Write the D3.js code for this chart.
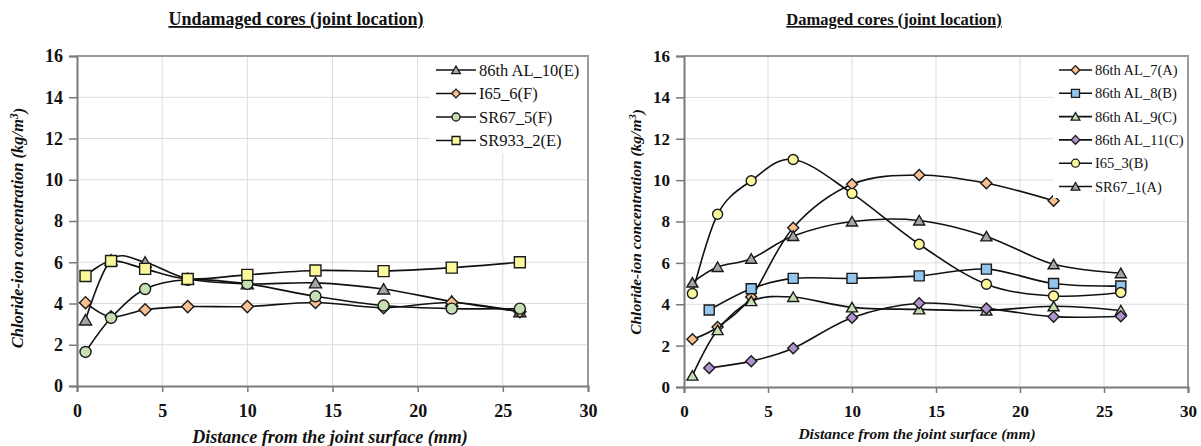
<!DOCTYPE html>
<html lang="en">
<head>
<meta charset="UTF-8">
<title>Chloride-ion concentration at joints</title>
<script src="https://d3js.org/d3.v7.min.js"></script>
<style>
  body { margin: 0; padding: 0; background: #fff; }
  text { font-family: "Liberation Serif", "Times New Roman", serif; fill: #111; }
</style>
</head>
<body>
<div id="main"></div>
<script>
// ---- data ----
var xTicks = [0, 5, 10, 15, 20, 25, 30];
var yTicks = [0, 2, 4, 6, 8, 10, 12, 14, 16];

// undamaged cores
var depthU = [0.5, 2, 4, 6.5, 10, 14, 18, 22, 26];
var al10E = [3.2, 6.1, 6.0, 5.2, 4.95, 5.0, 4.7, 4.1, 3.6];
var i65_6F = [4.04, 3.35, 3.7, 3.85, 3.85, 4.05, 3.8, 4.05, 3.6];
var sr67_5F = [1.65, 3.3, 4.7, 5.15, 4.95, 4.35, 3.9, 3.75, 3.75];
var sr933_2E = [5.33, 6.06, 5.68, 5.19, 5.39, 5.6, 5.57, 5.74, 6.0];

// damaged cores
var depthD = [0.5, 2, 4, 6.5, 10, 14, 18, 22, 26];
var depthD7 = [0.5, 2, 4, 6.5, 10, 14, 18, 22];
var depthD8 = [1.5, 4, 6.5, 10, 14, 18, 22, 26];
var al7A = [2.31, 2.9, 4.35, 7.7, 9.8, 10.25, 9.85, 9.0];
var al8B = [3.72, 4.75, 5.25, 5.25, 5.37, 5.7, 5.0, 4.88];
var al9C = [0.55, 2.75, 4.15, 4.35, 3.85, 3.75, 3.7, 3.9, 3.7];
var al11C = [0.92, 1.25, 1.87, 3.35, 4.05, 3.8, 3.4, 3.42];
var i65_3B = [4.52, 8.35, 9.97, 11.0, 9.36, 6.9, 4.97, 4.4, 4.57];
var sr67_1A = [5.05, 5.8, 6.2, 7.3, 8.0, 8.05, 7.28, 5.93, 5.5];

var colors = {
    orange: '#fac090',
    blue: '#93c6ee',
    green: '#c6e0b4',
    gray: '#a5a5a5',
    purple: '#b092cf',
    yellow: '#fbf89c'
}

var serif = '"Liberation Serif", "Times New Roman", serif';

function pairs(xs, ys) {
    return xs.map(function(x, i) { return { x: x, y: ys[i] }; });
}

var undamaged = [
    { name: '86th AL_10(E)', pts: pairs(depthU, al10E), shape: 'triangle', fill: colors.gray },
    { name: 'I65_6(F)', pts: pairs(depthU, i65_6F), shape: 'diamond', fill: colors.orange },
    { name: 'SR67_5(F)', pts: pairs(depthU, sr67_5F), shape: 'circle', fill: colors.green },
    { name: 'SR933_2(E)', pts: pairs(depthU, sr933_2E), shape: 'square', fill: colors.yellow }
];

var damaged = [
    { name: '86th AL_7(A)', pts: pairs(depthD7, al7A), shape: 'diamond', fill: colors.orange },
    { name: '86th AL_8(B)', pts: pairs(depthD8, al8B), shape: 'square', fill: colors.blue },
    { name: '86th AL_9(C)', pts: pairs(depthD, al9C), shape: 'triangle', fill: colors.green },
    { name: '86th AL_11(C)', pts: pairs(depthD8, al11C), shape: 'diamond', fill: colors.purple },
    { name: 'I65_3(B)', pts: pairs(depthD, i65_3B), shape: 'circle', fill: colors.yellow },
    { name: 'SR67_1(A)', pts: pairs(depthD, sr67_1A), shape: 'triangle', fill: colors.gray }
];

var svg = d3.select('#main').append('svg')
    .attr('width', 1201)
    .attr('height', 446);

// marker path, s = half size
function markerPath(shape, s) {
    if (shape == 'square') {
        return 'M' + (-s) + ',' + (-s) + 'H' + s + 'V' + s + 'H' + (-s) + 'Z';
    } else if (shape == 'diamond') {
        var d = s * 1.1;
        return 'M0,' + (-d) + 'L' + d + ',0L0,' + d + 'L' + (-d) + ',0Z';
    } else if (shape == 'triangle') {
        var w = s * 1.1;
        return 'M0,' + (-s) + 'L' + w + ',' + (s * 0.9) + 'L' + (-w) + ',' + (s * 0.9) + 'Z';
    } else {
        return d3.arc()({ innerRadius: 0, outerRadius: s, startAngle: 0, endAngle: 2 * Math.PI });
    }
}

function drawChart(cfg) {
    var x = d3.scaleLinear().domain([0, 30]).range([cfg.left, cfg.right]);
    var y = d3.scaleLinear().domain([0, 16]).range([cfg.bottom, cfg.top]);
    var g = svg.append('g');

    // gridlines
    g.append('g')
        .selectAll('line.h')
        .data(yTicks.slice(1))
        .enter().append('line')
        .attr('x1', cfg.left).attr('x2', cfg.right)
        .attr('y1', function(d) { return y(d); })
        .attr('y2', function(d) { return y(d); })
        .attr('stroke', '#dcdcdc').attr('stroke-width', 1);
    g.append('g')
        .selectAll('line.v')
        .data(xTicks.slice(1))
        .enter().append('line')
        .attr('y1', cfg.top).attr('y2', cfg.bottom)
        .attr('x1', function(d) { return x(d); })
        .attr('x2', function(d) { return x(d); })
        .attr('stroke', '#dcdcdc').attr('stroke-width', 1);

    // plot frame (top and right)
    g.append('path')
        .attr('d', 'M' + cfg.left + ',' + cfg.top + 'H' + cfg.right + 'V' + cfg.bottom)
        .attr('fill', 'none').attr('stroke', '#9a9a9a').attr('stroke-width', 2);

    // axes
    var yAxis = g.append('g')
        .attr('transform', 'translate(' + cfg.left + ',0)')
        .call(d3.axisLeft(y).tickValues(yTicks).tickSize(8).tickPadding(6));
    var xAxis = g.append('g')
        .attr('transform', 'translate(0,' + cfg.bottom + ')')
        .call(d3.axisBottom(x).tickValues(xTicks).tickSize(6).tickPadding(12));

    [yAxis, xAxis].forEach(function(a) {
        a.attr('font-family', serif).attr('font-size', cfg.tickFont);
        a.select('.domain').attr('stroke', '#7a7a7a').attr('stroke-width', 2);
        a.selectAll('.tick line').attr('stroke', '#7a7a7a').attr('stroke-width', 1.5);
        a.selectAll('.tick text')
            .style('font-family', serif)
            .style('font-weight', 'bold')
            .style('font-size', cfg.tickFont + 'px')
            .attr('fill', '#111');
    });

    // series
    var line = d3.line()
        .x(function(d) { return x(d.x); })
        .y(function(d) { return y(d.y); })
        .curve(d3.curveCardinal.tension(0));

    cfg.series.forEach(function(s) {
        var sg = g.append('g');
        sg.append('path')
            .attr('d', line(s.pts))
            .attr('fill', 'none')
            .attr('stroke', '#111')
            .attr('stroke-width', 1.6);
        sg.selectAll('path.m')
            .data(s.pts)
            .enter().append('path')
            .attr('class', 'm')
            .attr('d', markerPath(s.shape, cfg.marker))
            .attr('transform', function(d) { return 'translate(' + x(d.x) + ',' + y(d.y) + ')'; })
            .attr('fill', s.fill)
            .attr('stroke', '#1a1a1a')
            .attr('stroke-width', 1.4);
    });

    // legend
    var lg = g.append('g');
    lg.append('rect')
        .attr('x', cfg.legend.x).attr('y', cfg.top + 1)
        .attr('width', cfg.right - cfg.legend.x - 1)
        .attr('height', cfg.legend.h)
        .attr('fill', '#fff');
    cfg.series.forEach(function(s, i) {
        var ly = cfg.legend.y + i * cfg.legend.step;
        lg.append('line')
            .attr('x1', cfg.legend.x + 6).attr('x2', cfg.legend.x + cfg.legend.len + 6)
            .attr('y1', ly).attr('y2', ly)
            .attr('stroke', '#111').attr('stroke-width', 1.6);
        lg.append('path')
            .attr('d', markerPath(s.shape, 4))
            .attr('transform', 'translate(' + (cfg.legend.x + 6 + cfg.legend.len / 2) + ',' + ly + ')')
            .attr('fill', s.fill)
            .attr('stroke', '#1a1a1a')
            .attr('stroke-width', 1.3);
        lg.append('text')
            .attr('x', cfg.legend.x + cfg.legend.len + 9)
            .attr('y', ly)
            .attr('dy', '0.35em')
            .style('font-size', cfg.legend.font + 'px')
            .text(s.name);
    });

    // title
    g.append('text')
        .attr('x', cfg.titleX).attr('y', 25)
        .attr('text-anchor', 'middle')
        .style('font-weight', 'bold')
        .style('font-size', cfg.titleFont + 'px')
        .style('text-decoration', 'underline')
        .text(cfg.title);

    // x axis title
    g.append('text')
        .attr('x', cfg.xTitleX).attr('y', cfg.xTitleY)
        .attr('text-anchor', 'middle')
        .style('font-weight', 'bold')
        .style('font-style', 'italic')
        .style('font-size', cfg.xTitleFont + 'px')
        .text('Distance from the joint surface (mm)');

    // y axis title
    var yt = g.append('text')
        .attr('transform', 'translate(' + cfg.yTitleX + ',' + cfg.yTitleY + ') rotate(-90)')
        .attr('text-anchor', 'middle')
        .style('font-weight', 'bold')
        .style('font-style', 'italic')
        .style('font-size', cfg.yTitleFont + 'px');
    yt.append('tspan').text('Chloride-ion concentration (kg/m');
    yt.append('tspan').attr('dy', '-0.45em').style('font-size', (cfg.yTitleFont - 5) + 'px').text('3');
    yt.append('tspan').attr('dy', '0.45em').text(')');
}

drawChart({
    left: 77, right: 588, top: 56, bottom: 386,
    series: undamaged,
    marker: 5.5,
    tickFont: 18,
    legend: { x: 430, y: 70, step: 23.5, len: 40, h: 96, font: 16.5 },
    title: 'Undamaged cores (joint location)', titleX: 296, titleFont: 18,
    xTitleX: 330, xTitleY: 443, xTitleFont: 18,
    yTitleX: 23, yTitleY: 228, yTitleFont: 16.5
});

drawChart({
    left: 684, right: 1188, top: 56, bottom: 387,
    series: damaged,
    marker: 5,
    tickFont: 17,
    legend: { x: 1053, y: 70, step: 23.3, len: 33, h: 141, font: 14.5 },
    title: 'Damaged cores (joint location)', titleX: 894, titleFont: 16.5,
    xTitleX: 917, xTitleY: 439, xTitleFont: 15.5,
    yTitleX: 641, yTitleY: 222, yTitleFont: 15.5
});
</script>
</body>
</html>
